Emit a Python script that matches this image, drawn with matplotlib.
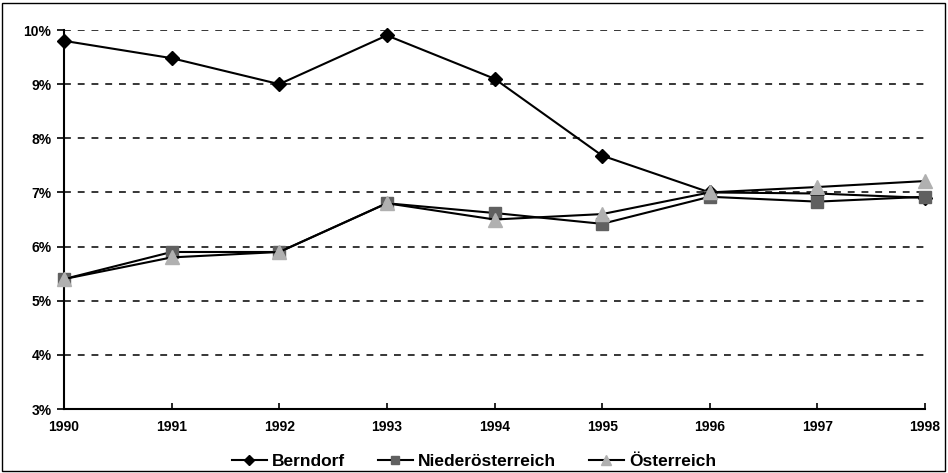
import matplotlib
matplotlib.use("Agg")
import matplotlib.pyplot as plt
from matplotlib.patches import Rectangle
from matplotlib.ticker import FuncFormatter

years = [1990, 1991, 1992, 1993, 1994, 1995, 1996, 1997, 1998]
berndorf = [9.8, 9.48, 9.0, 9.9, 9.1, 7.68, 7.0, 6.98, 6.9]
noe = [5.4, 5.9, 5.9, 6.8, 6.62, 6.42, 6.92, 6.83, 6.92]
oesterreich = [5.4, 5.8, 5.9, 6.8, 6.5, 6.6, 7.0, 7.1, 7.21]
yticks = [3, 4, 5, 6, 7, 8, 9, 10]

plt.rcParams['font.family'] = ['Liberation Sans', 'DejaVu Sans']
plt.rcParams['font.weight'] = 'bold'

fig = plt.figure(figsize=(9.48, 4.73), dpi=100)
ax = fig.add_axes([64/948, 1-409/473, (925-64)/948, (409-30)/473])

ax.plot(years, berndorf, color='black', lw=1.5, marker='D', ms=7,
        mfc='black', mec='black', label='Berndorf', zorder=3, clip_on=False)
ax.plot(years, noe, color='black', lw=1.5, marker='s', ms=8,
        mfc='#606060', mec='#606060', label='Niederösterreich', zorder=4, clip_on=False)
ax.plot(years, oesterreich, color='black', lw=1.5, marker='^', ms=10,
        mfc='#b0b0b0', mec='#b0b0b0', label='Österreich', zorder=5, clip_on=False)

ax.set_xlim(1990, 1998)
ax.set_ylim(3, 10)
ax.set_xticks(years)
ax.set_yticks(yticks)
ax.yaxis.set_major_formatter(FuncFormatter(lambda v, p: f"{int(round(v))}%"))
for y in yticks[1:]:
    ax.axhline(y, color='black', lw=1.1, ls=(0, (4.5, 4.5)), zorder=1)
ax.spines['top'].set_visible(False)
ax.spines['right'].set_visible(False)
ax.spines['left'].set_linewidth(1.5)
ax.spines['bottom'].set_linewidth(1.5)
ax.tick_params(axis='y', direction='out', length=5, width=1.2, labelsize=10, pad=4)
ax.tick_params(axis='x', direction='in', length=4, width=1.2, labelsize=10, pad=8)
for lbl in ax.get_xticklabels() + ax.get_yticklabels():
    lbl.set_fontweight('bold')

leg = fig.legend(loc='center', bbox_to_anchor=(0.5, 1-461/473), ncol=3, frameon=False,
                 prop={'size': 12.5, 'weight': 'bold'}, handlelength=2.0,
                 columnspacing=1.9, handletextpad=0.3, markerscale=0.7)

fig.patches.append(Rectangle((2/948, 2/473), 943/948, 468/473, transform=fig.transFigure,
                             fill=False, edgecolor='black', lw=1.0))

fig.savefig("out.png", dpi=100)
